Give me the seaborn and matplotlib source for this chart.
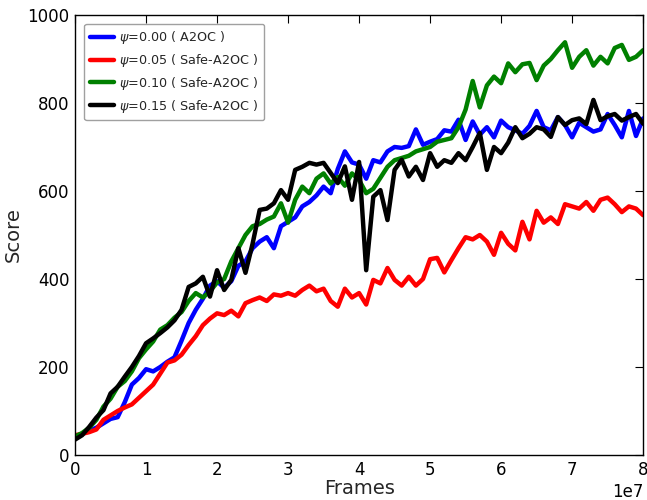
import numpy as np
import pandas as pd
import matplotlib
matplotlib.use('Agg')
import matplotlib.pyplot as plt
import seaborn as sns

# ==================== 数据 ====================
frames = np.arange(0, 81) * 1e6

score_psi000 = [42, 48, 55, 62, 72, 82, 86, 120, 160, 175, 195, 190, 200, 212, 222, 260, 300, 330, 355, 385,
                395, 380, 395, 430, 440, 470, 485, 495, 470, 520, 530, 540, 565, 575, 590, 610, 595, 650, 690, 665,
                660, 628, 670, 665, 690, 700, 698, 702, 740, 705, 712, 718, 738, 735, 762, 716, 758, 728, 745, 722,
                760, 745, 738, 730, 748, 782, 745, 738, 768, 750, 722, 755, 745, 735, 740, 775, 750, 722, 782, 725,
                765]
score_psi005 = [45, 48, 52, 58, 80, 90, 100, 108, 115, 130, 145, 160, 185, 210, 215, 228, 250, 270, 295, 310,
                322, 318, 328, 315, 345, 352, 358, 350, 365, 362, 368, 362, 375, 385, 372, 378, 350, 337, 378, 358,
                368, 342, 398, 390, 425, 398, 385, 405, 385, 400, 445, 448, 415, 443, 470, 495, 490, 500, 485, 455,
                505, 480, 465, 530, 490, 555, 528, 540, 525, 570, 565, 560, 575, 555, 580, 585, 570, 552, 565, 560,
                545]
score_psi010 = [42, 50, 62, 80, 110, 128, 155, 168, 190, 220, 240, 258, 285, 295, 312, 325, 350, 368, 358, 372,
                392, 400, 440, 470, 500, 520, 525, 535, 542, 572, 528, 580, 610, 595, 628, 640, 617, 632, 612, 640,
                625, 595, 605, 630, 655, 670, 675, 680, 690, 695, 700, 712, 716, 720, 745, 785, 850, 790, 840, 860,
                845, 890, 870, 888, 891, 852, 885, 900, 920, 938, 880, 905, 920, 885, 905, 890, 925, 932, 898, 905,
                920]
score_psi015 = [35, 45, 64, 85, 102, 140, 155, 178, 200, 225, 254, 265, 277, 290, 306, 330, 382, 390, 405, 360,
                420, 375, 398, 470, 414, 480, 557, 560, 572, 602, 580, 648, 655, 664, 660, 664, 641, 618, 656, 580,
                666, 420, 587, 602, 534, 648, 671, 633, 655, 625, 686, 655, 670, 664, 686, 670, 700, 732, 648, 700,
                686, 710, 745, 720, 730, 745, 740, 723, 768, 750, 761, 765, 752, 807, 761, 770, 775, 760, 768, 775,
                753]

labels = [r'$\psi$=0.00 ( A2OC )', r'$\psi$=0.05 ( Safe-A2OC )',
          r'$\psi$=0.10 ( Safe-A2OC )', r'$\psi$=0.15 ( Safe-A2OC )']
colors = ['#0000ff', '#ff0000', '#008000', '#000000']
series = [score_psi000, score_psi005, score_psi010, score_psi015]

# ==================== 风格 ====================
sns.set_style('white')
plt.rcParams['font.family'] = ['DejaVu Sans']
plt.rcParams['mathtext.fontset'] = 'dejavusans'
plt.rcParams['xtick.direction'] = 'in'
plt.rcParams['ytick.direction'] = 'in'
plt.rcParams['xtick.top'] = True
plt.rcParams['ytick.right'] = True

fig = plt.figure(figsize=(6.47, 5.0), dpi=100)
ax = fig.add_axes([0.116, 0.09, 0.878, 0.88])

for s, lab, c in zip(series, labels, colors):
    sns.lineplot(x=frames, y=s, color=c, label=lab, lw=3.2, ax=ax)

ax.set_xlim(0, 8e7)
ax.set_ylim(0, 1000)
ax.set_xticks(np.arange(0, 9) * 1e7)
ax.set_yticks(np.arange(0, 1001, 200))
ax.tick_params(axis='both', labelsize=12, length=6, width=0.8, colors='black')
ax.tick_params(axis='x', pad=4)
ax.tick_params(axis='y', pad=4)
for sp in ax.spines.values():
    sp.set_color('black')
    sp.set_linewidth(1.0)
ax.xaxis.get_offset_text().set_fontsize(12)
ax.set_xlabel('Frames', fontsize=14, labelpad=0)
ax.set_ylabel('Score', fontsize=14, labelpad=3)

leg = ax.legend(loc='upper left', fontsize=9.2, frameon=True, fancybox=True,
                handlelength=1.9, handletextpad=0.4, borderpad=0.45, labelspacing=0.45,
                bbox_to_anchor=(0.005, 0.995))
leg.get_frame().set_edgecolor('#888888')
leg.get_frame().set_linewidth(1.0)

fig.savefig('out.png', dpi=100)
